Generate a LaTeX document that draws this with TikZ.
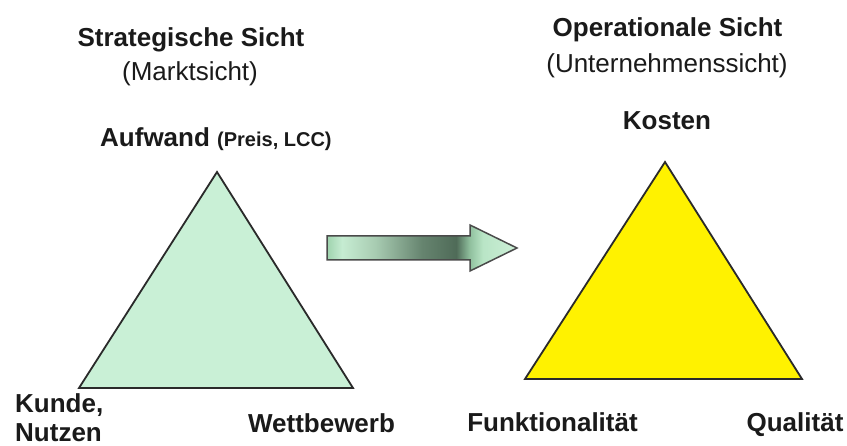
\documentclass[tikz,border=0pt]{standalone}
\usepackage{fontspec}
\setmainfont{Liberation Sans}
\definecolor{arA}{HTML}{9FD3AE}
\definecolor{arB}{HTML}{C6ECD2}
\definecolor{arC}{HTML}{A9CDB3}
\definecolor{arD}{HTML}{66846F}
\definecolor{arE}{HTML}{4F6B58}
\definecolor{arF}{HTML}{8FBF9D}
\definecolor{arG}{HTML}{B9E5C6}
\definecolor{arH}{HTML}{CDEFD7}
\definecolor{mint}{HTML}{C9F0D6}
\definecolor{txt}{HTML}{1A1A1A}
\definecolor{edge}{HTML}{2A2A2A}
\pgfdeclarehorizontalshading{arrowshade}{100bp}{color(0bp)=(arA); color(25bp)=(arA); color(29bp)=(arB); color(37.5bp)=(arC); color(50bp)=(arD); color(59bp)=(arE); color(62.5bp)=(arF); color(66bp)=(arG); color(75bp)=(arH); color(100bp)=(arH)}
\tikzset{
  big/.style={font=\fontsize{26}{30}\selectfont\bfseries, inner sep=0pt, text=txt},
  reg/.style={font=\fontsize{26}{30}\selectfont, inner sep=0pt, text=txt},
  tri/.style={draw=edge, line width=1.8pt, line join=miter},
  arrowline/.style={draw=edge!85, line width=1.5pt, line join=miter}
}
\begin{document}
\begin{tikzpicture}[x=1pt, y=-1pt]
\useasboundingbox[fill=white] (0,0) rectangle (847,446);
% triangles
\coordinate (L1) at (217,172);
\coordinate (L2) at (79,388);
\coordinate (L3) at (353,388);
\draw[tri, fill=mint] (L1) -- (L2) -- (L3) -- cycle;
\coordinate (R1) at (665,162);
\coordinate (R2) at (525,379);
\coordinate (R3) at (802,379);
\draw[tri, fill=yellow] (R1) -- (R2) -- (R3) -- cycle;
% arrow
\shadedraw[arrowline, shading=arrowshade] (327,236) -- (470,236) -- (470,225) -- (517,248) -- (470,271) -- (470,260) -- (327,260) -- cycle;
% titles
\node[big, anchor=base] (t1) at (191,47) {Strategische Sicht};
\node[reg, anchor=base] (s1) at (190,81) {(Marktsicht)};
\node[big, anchor=base west] (a1) at (100,147) {Aufwand {\fontsize{20}{24}\selectfont(Preis, LCC)}};
\node[big, anchor=base] (t2) at (667.5,37) {Operationale Sicht};
\node[reg, anchor=base] (s2) at (667,72.5) {(Unternehmenssicht)};
\node[big, anchor=base] (k) at (667,130) {Kosten};
% corner labels
\node[big, anchor=base west] (ku) at (15,413) {Kunde,};
\node[big, anchor=base west] (nu) at (15,442) {Nutzen};
\node[big, anchor=base] (w) at (321.5,433) {Wettbewerb};
\node[big, anchor=base] (f) at (552.5,432) {Funktionalität};
\node[big, anchor=base] (q) at (795,432) {Qualität};
\end{tikzpicture}
\end{document}
